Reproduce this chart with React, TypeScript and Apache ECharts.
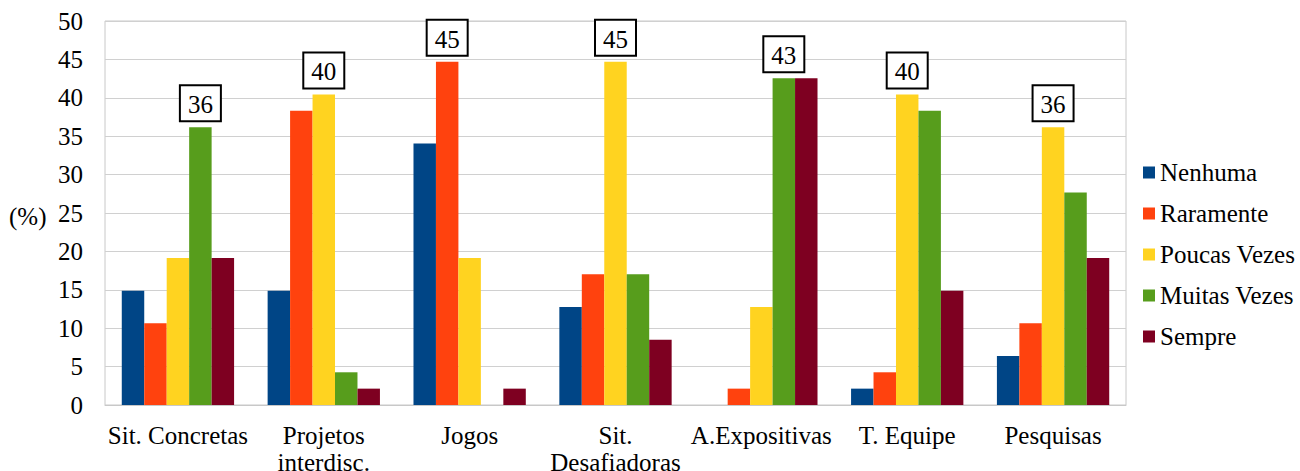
import React, { useEffect, useRef } from "react";
import * as echarts from "echarts";

const categories = [
  "Sit. Concretas",
  "Projetos\ninterdisc.",
  "Jogos",
  "Sit.\nDesafiadoras",
  "A.Expositivas",
  "T. Equipe",
  "Pesquisas",
];
const seriesNames = ["Nenhuma", "Raramente", "Poucas Vezes", "Muitas Vezes", "Sempre"];
const nenhuma = [14.89, 14.89, 34.04, 12.77, 0, 2.13, 6.38];
const raramente = [10.64, 38.3, 44.68, 17.02, 2.13, 4.26, 10.64];
const poucasVezes = [19.15, 40.43, 19.15, 44.68, 12.77, 40.43, 36.17];
const muitasVezes = [36.17, 4.26, 0, 17.02, 42.55, 38.3, 27.66];
const sempre = [19.15, 2.13, 2.13, 8.51, 42.55, 14.89, 19.15];
const colors = ["#004586", "#ff420e", "#ffd320", "#579d1c", "#7e0021"];
const yTicks = [0, 5, 10, 15, 20, 25, 30, 35, 40, 45, 50];

const FONT = "Liberation Serif";
const FS = 25;

export default function App() {
  const ref = useRef<HTMLDivElement>(null);
  useEffect(() => {
    document.body.style.margin = "0";
    if (!ref.current) return;
    const chart = echarts.init(ref.current, null, { renderer: "svg" });
    const all = [nenhuma, raramente, poucasVezes, muitasVezes, sempre];
    const maxIdx = categories.map((_, c) => {
      let best = 0;
      all.forEach((arr, s) => {
        if (arr[c] > all[best][c]) best = s;
      });
      return best;
    });
    chart.setOption({
      animation: false,
      textStyle: { fontFamily: FONT, color: "#000" },
      grid: {
        left: 105,
        right: 174,
        top: 21,
        bottom: 66,
        show: true,
        borderColor: "#c8c8c8",
        borderWidth: 1,
        containLabel: false,
        outerBoundsMode: "none",
      },
      legend: {
        orient: "vertical",
        left: 1138,
        top: 155,
        itemWidth: 12,
        itemHeight: 12,
        itemGap: 16,
        icon: "rect",
        textStyle: { fontFamily: FONT, fontSize: FS, lineHeight: 25, color: "#000" },
        data: seriesNames,
      },
      xAxis: {
        type: "category",
        data: categories,
        axisTick: { show: false },
        axisLine: { lineStyle: { color: "#c8c8c8" } },
        axisLabel: {
          fontFamily: FONT,
          fontSize: FS,
          lineHeight: 27,
          color: "#000",
          margin: 17,
          interval: 0,
        },
      },
      yAxis: {
        type: "value",
        min: yTicks[0],
        max: yTicks[yTicks.length - 1],
        interval: 5,
        axisLine: { show: false },
        axisTick: { show: false },
        splitLine: { lineStyle: { color: "#d0d0d0", width: 1.2 } },
        axisLabel: { fontFamily: FONT, fontSize: FS, color: "#000", margin: 22 },
      },
      graphic: [
        {
          type: "text",
          left: 9,
          top: 204,
          style: { text: "(%)", fontFamily: FONT, fontSize: FS, fill: "#000" },
        },
      ],
      series: all.map((arr, s) => ({
        name: seriesNames[s],
        type: "bar",
        barGap: "0%",
        barCategoryGap: "23%",
        itemStyle: { color: colors[s] },
        data: arr.map((v, c) => ({
          value: v,
          label: {
            show: maxIdx[c] === s,
            position: "top",
            distance: 7,
            formatter: (p: any) => String(Math.round(p.value)),
            fontFamily: FONT,
            fontSize: FS,
            lineHeight: 25,
            color: "#000",
            backgroundColor: "#fff",
            borderColor: "#000",
            borderWidth: 2,
            padding: [6, 7, 3, 7],
          },
        })),
      })),
    });
    return () => chart.dispose();
  }, []);
  return <div ref={ref} style={{ width: 1300, height: 471 }} />;
}
